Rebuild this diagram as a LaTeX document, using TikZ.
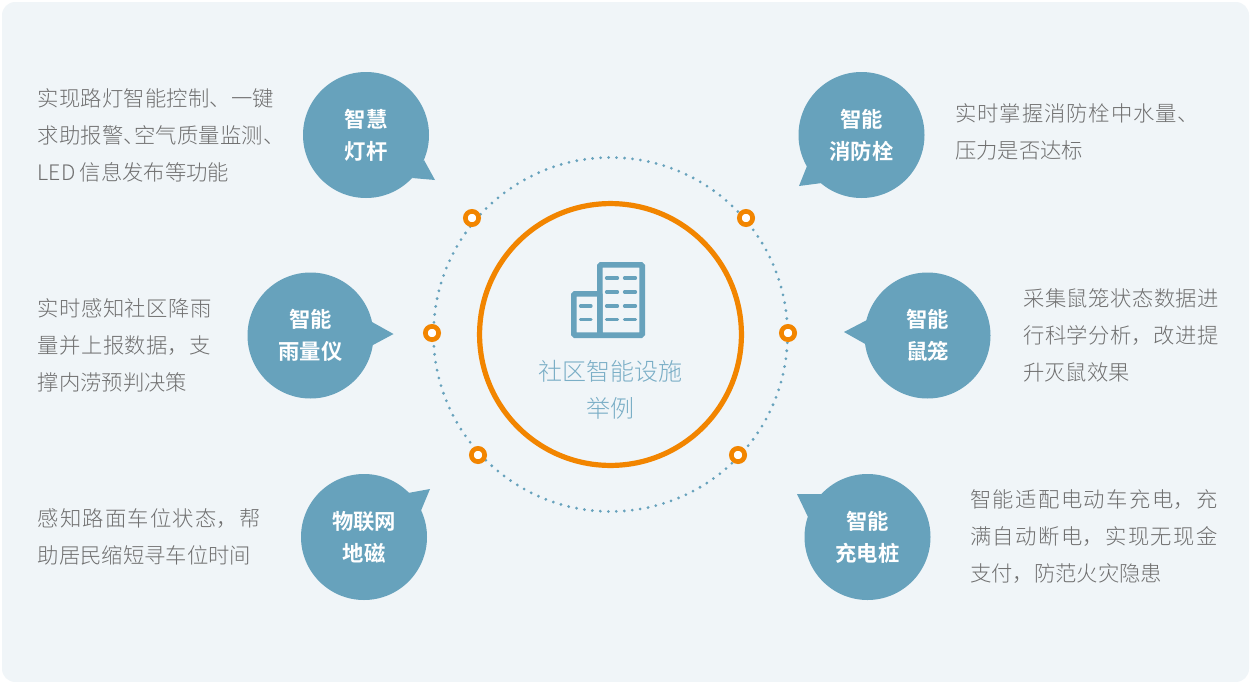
\documentclass[tikz,border=0pt]{standalone}
\usepackage{fontspec}
\newfontfamily\cjklight{Noto Sans CJK SC Light}
\newfontfamily\cjkreg{Noto Sans CJK SC}
\newfontfamily\cjkbold{Noto Sans CJK SC Bold}
\XeTeXlinebreaklocale "zh"
\XeTeXlinebreakskip=0pt plus 3pt
\definecolor{panelbg}{HTML}{F0F5F8}
\definecolor{bubble}{HTML}{67A2BC}
\definecolor{ringor}{HTML}{F28500}
\definecolor{bodygray}{HTML}{6F6F6F}
\definecolor{centertxt}{HTML}{7AAEC6}
\newcommand{\jl}[1]{{\parfillskip=0pt\tolerance=10000\hbadness=10000 #1\par}}
\tikzset{
  x=0.75pt,y=-0.75pt,
  bubblenode/.style={circle,fill=bubble,minimum size=94.5pt,inner sep=0pt,text=white,align=center,
    font={\cjkbold\fontsize{16}{24}\selectfont}},
  tailshape/.style={fill=bubble},
  desc/.style={anchor=north west,inner sep=0pt,text=bodygray,align=left,
    font={\cjklight\fontsize{16}{27.75}\selectfont}},
  ringdot/.style={circle,draw=ringor,fill=white,line width=3.5pt,minimum size=10pt,inner sep=0pt},
  bar/.style={draw=bubble,line width=2.4pt,line cap=round},
}
\begin{document}
\begin{tikzpicture}
\useasboundingbox (0,0) rectangle (1250,682);
\fill[white] (0,0) rectangle (1250,682);
\fill[panelbg,rounded corners=10pt] (2,2) rectangle (1249,682);
% tails
\fill[tailshape] (424,160) -- (435,180) -- (412,178) -- cycle;
\fill[tailshape] (372,322) -- (393.5,334) -- (373,345) -- cycle;
\fill[tailshape] (408,493) -- (430,489) -- (420,513) -- cycle;
\fill[tailshape] (807,166) -- (799,186) -- (822,183) -- cycle;
\fill[tailshape] (867,320) -- (844,332) -- (867,345) -- cycle;
\fill[tailshape] (822,494) -- (797,494) -- (808,517) -- cycle;
% bubbles
\node[bubblenode] (b1) at (366,135) {智慧\\灯杆};
\node[bubblenode] (b2) at (310.5,335.5) {智能\\雨量仪};
\node[bubblenode] (b3) at (364,537) {物联网\\地磁};
\node[bubblenode] (b4) at (861.5,135) {智能\\消防栓};
\node[bubblenode] (b5) at (927.5,335.5) {智能\\鼠笼};
\node[bubblenode] (b6) at (867.5,537) {智能\\充电桩};
% descriptions
\node[desc,text width=178.5pt] (d1) at (37.5,88) {\jl{实现路灯智能控制、一键}\jl{求助报警、\kern-.5em空气质量监测、\kern-.5em}LED\kern3.4pt 信息发布等功能};
\node[desc,text width=133.5pt] (d2) at (37.5,298) {\jl{实时感知社区降雨}\jl{量并上报数据，支}撑内涝预判决策};
\node[desc,text width=176.25pt] (d3) at (37.5,508) {\jl{感知路面车位状态，帮}助居民缩短寻车位时间};
\node[desc,text width=182pt] (d4) at (955,103) {\jl{实时掌握消防栓中水量、\kern-.5em}压力是否达标};
\node[desc,text width=150.75pt] (d5) at (1023,288) {\jl{采集鼠笼状态数据进}\jl{行科学分析，改进提}升灭鼠效果};
\node[desc,text width=196.75pt] (d6) at (970,489) {\jl{智能适配电动车充电，充}\jl{满自动断电，实现无现金}支付，防范火灾隐患};
% central circles
\coordinate (ctr) at (610.5,334.5);
\draw[bubble,line width=2.3pt,line cap=round,dash pattern=on 0pt off 6pt] (ctr) circle[radius=132.75pt];
\draw[ringor,line width=3.9pt] (ctr) circle[radius=98.2pt];
\node[ringdot] (r1) at (472,218) {};
\node[ringdot] (r2) at (746,218) {};
\node[ringdot] (r3) at (432,333) {};
\node[ringdot] (r4) at (788,333) {};
\node[ringdot] (r5) at (478,455) {};
\node[ringdot] (r6) at (738,455) {};
% building icon
\draw[bubble,line width=4.2pt,rounded corners=1pt] (599.8,264.8) rectangle (642.2,335.2);
\draw[bubble,line width=4.2pt,rounded corners=1pt] (573.8,293.8) rectangle (599.8,335.2);
\foreach \yy in {278,292,306,319.5} {
  \draw[bar] (606.5,\yy) -- (617.5,\yy);
  \draw[bar] (624.5,\yy) -- (635.5,\yy);
}
\foreach \yy in {306,319.5} \draw[bar] (580.5,\yy) -- (591,\yy);
\node[text=centertxt,align=center,inner sep=0pt,font={\cjklight\fontsize{18}{28}\selectfont}] (lab) at (610.5,389.5) {社区智能设施\\举例};
\end{tikzpicture}
\end{document}
